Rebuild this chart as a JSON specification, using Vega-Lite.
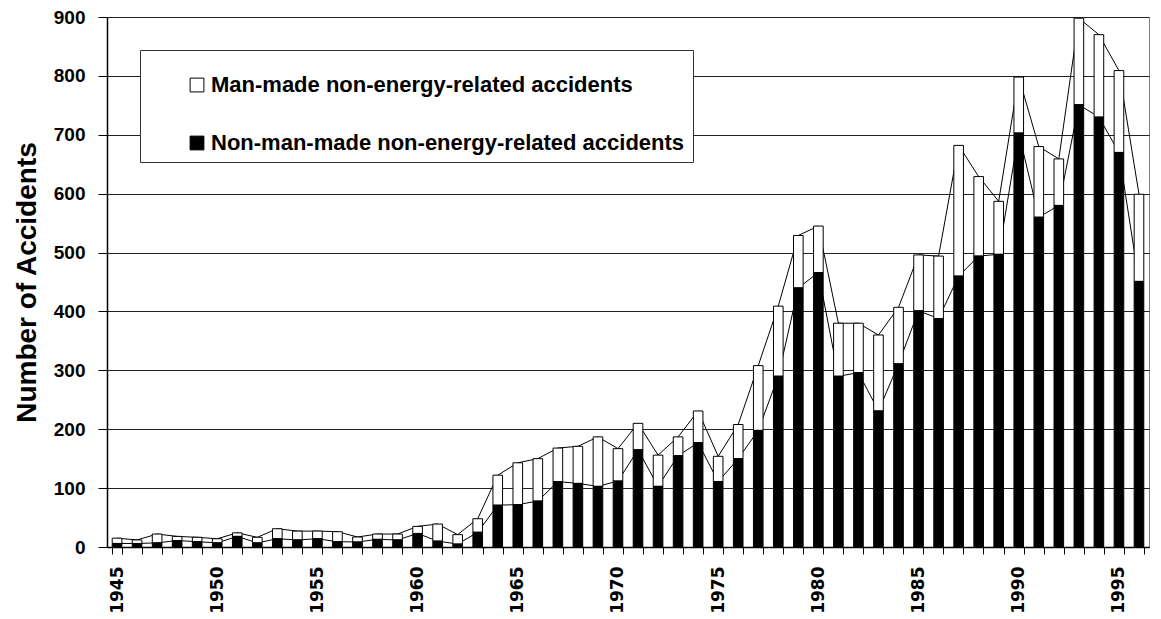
{
  "$schema": "https://vega.github.io/schema/vega-lite/v6.json",
  "autosize": "none",
  "width": 1042,
  "height": 530,
  "padding": {"left": 107, "top": 17, "right": 12, "bottom": 72},
  "background": "white",
  "config": {
    "view": {"stroke": "#808080", "strokeWidth": 1},
    "axis": {"labelColor": "black", "titleColor": "black", "domainColor": "black", "tickColor": "black"}
  },
  "data": {
    "values": [
      {"year": 1945, "nonman": 6, "total": 15},
      {"year": 1946, "nonman": 6, "total": 12},
      {"year": 1947, "nonman": 7, "total": 22},
      {"year": 1948, "nonman": 11, "total": 18},
      {"year": 1949, "nonman": 9, "total": 16.5},
      {"year": 1950, "nonman": 7, "total": 14},
      {"year": 1951, "nonman": 18, "total": 24},
      {"year": 1952, "nonman": 7, "total": 16.5},
      {"year": 1953, "nonman": 14, "total": 31},
      {"year": 1954, "nonman": 12, "total": 27},
      {"year": 1955, "nonman": 14, "total": 27},
      {"year": 1956, "nonman": 9, "total": 26},
      {"year": 1957, "nonman": 8.5, "total": 17},
      {"year": 1958, "nonman": 13, "total": 22},
      {"year": 1959, "nonman": 12, "total": 22},
      {"year": 1960, "nonman": 23, "total": 35},
      {"year": 1961, "nonman": 10, "total": 39},
      {"year": 1962, "nonman": 5, "total": 21},
      {"year": 1963, "nonman": 25, "total": 48},
      {"year": 1964, "nonman": 71, "total": 122},
      {"year": 1965, "nonman": 72, "total": 143},
      {"year": 1966, "nonman": 78, "total": 150},
      {"year": 1967, "nonman": 111, "total": 168},
      {"year": 1968, "nonman": 108, "total": 171},
      {"year": 1969, "nonman": 103, "total": 187},
      {"year": 1970, "nonman": 112, "total": 167},
      {"year": 1971, "nonman": 165, "total": 210},
      {"year": 1972, "nonman": 103, "total": 156},
      {"year": 1973, "nonman": 155, "total": 187},
      {"year": 1974, "nonman": 177, "total": 231},
      {"year": 1975, "nonman": 111, "total": 154},
      {"year": 1976, "nonman": 150, "total": 208},
      {"year": 1977, "nonman": 198, "total": 308},
      {"year": 1978, "nonman": 290, "total": 409},
      {"year": 1979, "nonman": 440, "total": 529},
      {"year": 1980, "nonman": 466, "total": 545},
      {"year": 1981, "nonman": 290, "total": 380},
      {"year": 1982, "nonman": 296, "total": 380},
      {"year": 1983, "nonman": 231, "total": 360},
      {"year": 1984, "nonman": 311, "total": 407},
      {"year": 1985, "nonman": 401, "total": 496},
      {"year": 1986, "nonman": 388, "total": 494},
      {"year": 1987, "nonman": 460, "total": 682},
      {"year": 1988, "nonman": 494, "total": 629},
      {"year": 1989, "nonman": 497, "total": 587},
      {"year": 1990, "nonman": 703, "total": 798},
      {"year": 1991, "nonman": 560, "total": 680},
      {"year": 1992, "nonman": 580, "total": 659},
      {"year": 1993, "nonman": 751, "total": 898},
      {"year": 1994, "nonman": 730, "total": 870},
      {"year": 1995, "nonman": 670, "total": 809},
      {"year": 1996, "nonman": 451, "total": 599}
    ]
  },
  "encoding": {
    "x": {
      "field": "year",
      "type": "ordinal",
      "scale": {"paddingInner": 0.52, "paddingOuter": 0.26},
      "axis": {
        "title": null,
        "tickBand": "extent",
        "labelExpr": "datum.value % 5 == 0 ? datum.label : ''",
        "labelAngle": -90,
        "labelFont": "DejaVu Sans",
        "labelFontWeight": "bold",
        "labelFontSize": 17,
        "labelPadding": 12,
        "tickSize": 7,
        "domainWidth": 1.5
      }
    }
  },
  "layer": [
    {
      "mark": {"type": "line", "color": "black", "strokeWidth": 1},
      "encoding": {
        "y": {
          "field": "total",
          "type": "quantitative",
          "scale": {"domain": [0, 900], "nice": false},
          "axis": {
            "title": "Number of Accidents",
            "titleFont": "Liberation Sans",
            "titleFontSize": 28,
            "titleFontWeight": "bold",
            "titlePadding": 12,
            "labelFont": "Liberation Sans",
            "labelFontWeight": "bold",
            "labelFontSize": 19,
            "labelPadding": 13,
            "values": [0, 100, 200, 300, 400, 500, 600, 700, 800, 900],
            "grid": true,
            "gridColor": "#222",
            "gridWidth": 1,
            "tickSize": 9,
            "domainWidth": 1.5
          }
        }
      }
    },
    {
      "mark": {"type": "line", "color": "black", "strokeWidth": 1},
      "encoding": {"y": {"field": "nonman", "type": "quantitative"}}
    },
    {
      "mark": {"type": "bar", "stroke": "black", "strokeWidth": 1},
      "encoding": {
        "y": {"field": "nonman", "type": "quantitative"},
        "y2": {"field": "total"},
        "fill": {
          "datum": "Man-made non-energy-related accidents",
          "type": "nominal",
          "scale": {
            "domain": ["Man-made non-energy-related accidents", "Non-man-made non-energy-related accidents"],
            "range": ["white", "black"]
          },
          "legend": {
            "title": " ",
            "titleFontSize": 10,
            "titlePadding": 6,
            "orient": "none",
            "legendX": 33,
            "legendY": 33,
            "fillColor": "white",
            "strokeColor": "#333",
            "padding": 8,
            "symbolOffset": 38,
            "rowPadding": 36,
            "symbolType": "square",
            "symbolSize": 190,
            "symbolStrokeColor": "black",
            "symbolStrokeWidth": 1,
            "labelFont": "Liberation Sans",
            "labelFontWeight": "bold",
            "labelFontSize": 22,
            "labelColor": "black",
            "labelOffset": 3,
            "labelLimit": 800
          }
        }
      }
    },
    {
      "mark": {"type": "bar", "stroke": "black", "strokeWidth": 1},
      "encoding": {
        "y": {"field": "nonman", "type": "quantitative"},
        "y2": {"datum": 0},
        "fill": {"datum": "Non-man-made non-energy-related accidents", "type": "nominal"}
      }
    }
  ]
}
